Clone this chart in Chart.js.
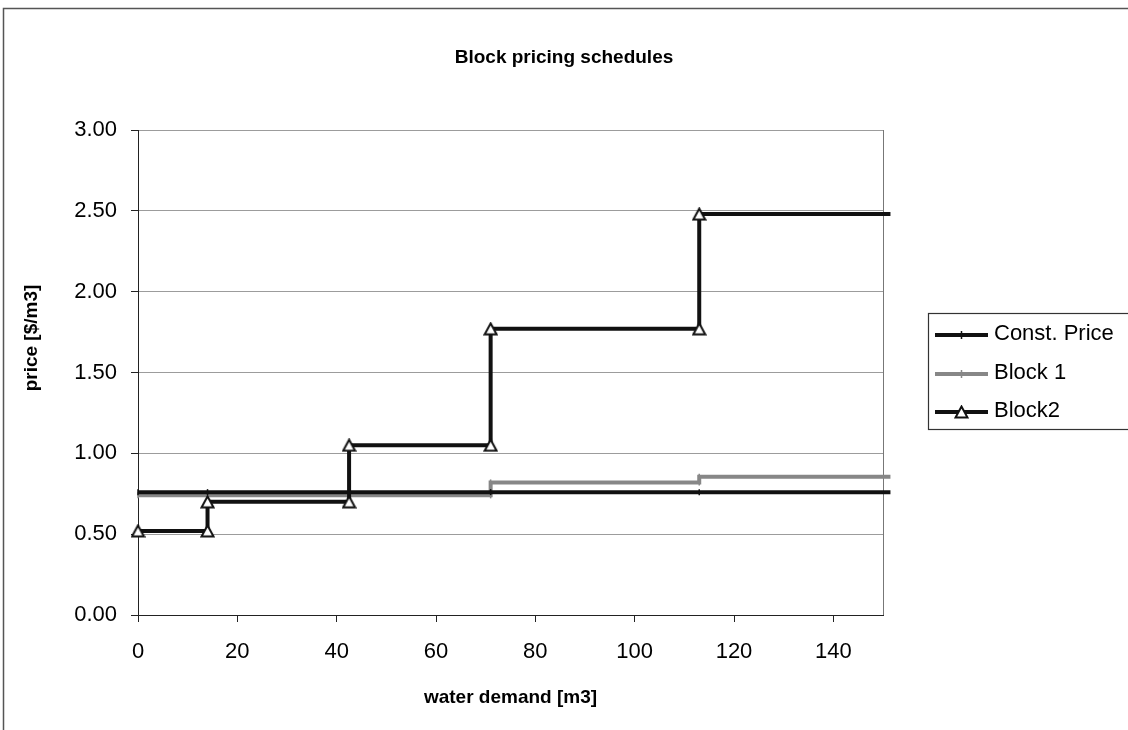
<!DOCTYPE html>
<html>
<head>
<meta charset="utf-8">
<title>Block pricing schedules</title>
<script src="https://cdn.jsdelivr.net/npm/chart.js@4.4.1/dist/chart.umd.min.js"></script>
<style>
  html, body { margin: 0; padding: 0; background: #fff; }
  #wrap { position: relative; width: 1128px; height: 730px; }
  canvas { display: block; }
</style>
</head>
<body>
<div id="wrap"><canvas id="c" width="1128" height="730"></canvas></div>
<script>
// Series data: water demand [m3] vs. price [$/m3]
const seriesNames = ['Const. Price', 'Block 1', 'Block2'];
const constX  = [0, 14, 42.5, 71, 113, 151.5];
const constY  = [0.76, 0.76, 0.76, 0.76, 0.76, 0.76];
const block1X = [0, 14, 42.5, 71, 71, 113, 113, 151.5];
const block1Y = [0.74, 0.74, 0.74, 0.74, 0.82, 0.82, 0.855, 0.855];
const block2X = [0, 14, 14, 42.5, 42.5, 71, 71, 113, 113, 151.5];
const block2Y = [0.52, 0.52, 0.70, 0.70, 1.05, 1.05, 1.77, 1.77, 2.48, 2.48];
const xTicks  = [0, 20, 40, 60, 80, 100, 120, 140];
const yTicks  = [0, 0.5, 1, 1.5, 2, 2.5, 3];

const FONT = "'Liberation Sans', Arial, Helvetica, sans-serif";
Chart.defaults.font.family = FONT;
Chart.defaults.color = '#000';

const toPoints = (xs, ys) => xs.map((x, i) => ({ x: x, y: ys[i] }));

// Open triangle marker, centred on its bounding box
function makeTriangle() {
  const c = document.createElement('canvas');
  c.width = 15; c.height = 14;
  const g = c.getContext('2d');
  g.beginPath();
  g.moveTo(7.5, 1.5);
  g.lineTo(13.5, 12.5);
  g.lineTo(1.5, 12.5);
  g.closePath();
  g.fillStyle = '#fff';
  g.fill();
  g.lineWidth = 2;
  g.lineJoin = 'miter';
  g.strokeStyle = '#111';
  g.stroke();
  return c;
}
const triangleMarker = makeTriangle();

// Outer chart frame
const framePlugin = {
  id: 'frame',
  beforeDraw(chart) {
    const ctx = chart.ctx;
    ctx.save();
    ctx.fillStyle = '#fff';
    ctx.fillRect(0, 0, chart.width, chart.height);
    ctx.strokeStyle = '#555';
    ctx.lineWidth = 1.5;
    ctx.strokeRect(3.5, 8.5, chart.width + 20, chart.height + 20);
    ctx.restore();
  }
};

// Right edge of the plot area
const plotBorderPlugin = {
  id: 'plotBorder',
  beforeDatasetsDraw(chart) {
    const { ctx, chartArea: a } = chart;
    ctx.save();
    ctx.strokeStyle = '#777';
    ctx.lineWidth = 1;
    ctx.beginPath();
    ctx.moveTo(Math.round(a.right) + 0.5, a.top);
    ctx.lineTo(Math.round(a.right) + 0.5, a.bottom);
    ctx.stroke();
    ctx.restore();
  }
};

// Value-axis title, placed a little above the middle of the plot
const yTitlePlugin = {
  id: 'yTitle',
  afterDraw(chart) {
    const ctx = chart.ctx;
    ctx.save();
    ctx.translate(32, 338);
    ctx.rotate(-Math.PI / 2);
    ctx.font = 'bold 19px ' + FONT;
    ctx.fillStyle = '#000';
    ctx.textAlign = 'center';
    ctx.textBaseline = 'middle';
    ctx.fillText('price [$/m3]', 0, 0);
    ctx.restore();
  }
};

// Boxed legend on the right, built from the dataset styles
const boxLegendPlugin = {
  id: 'boxLegend',
  afterDraw(chart) {
    const ctx = chart.ctx;
    const box = { x: 928.5, y: 313.5, w: 300, h: 116 };
    const rowsY = [335, 374, 412];
    ctx.save();
    ctx.strokeStyle = '#333';
    ctx.lineWidth = 1.2;
    ctx.strokeRect(box.x, box.y, box.w, box.h);
    chart.data.datasets.forEach((ds, i) => {
      const y = rowsY[i];
      ctx.strokeStyle = ds.borderColor;
      ctx.lineWidth = ds.borderWidth;
      ctx.beginPath();
      ctx.moveTo(935, y);
      ctx.lineTo(988, y);
      ctx.stroke();
      ctx.fillStyle = ds.pointBackgroundColor;
      ctx.strokeStyle = ds.pointBorderColor;
      ctx.lineWidth = ds.pointBorderWidth;
      Chart.helpers.drawPoint(ctx, {
        pointStyle: ds.pointStyle,
        rotation: ds.pointRotation || 0,
        radius: 4,
        borderWidth: ds.pointBorderWidth
      }, 961.5, y);
      ctx.fillStyle = '#000';
      ctx.font = '22px ' + FONT;
      ctx.textBaseline = 'middle';
      ctx.textAlign = 'left';
      ctx.fillText(ds.label, 994, y - 1);
    });
    ctx.restore();
  }
};

const block2Radius = block2X.map((_, i) => (i === block2X.length - 1 ? 0 : 6));

const chart = new Chart(document.getElementById('c'), {
  type: 'scatter',
  data: {
    datasets: [
      {
        label: seriesNames[0],
        data: toPoints(constX, constY),
        showLine: true,
        borderColor: '#111',
        borderWidth: 4,
        pointStyle: 'line',
        pointRotation: 90,
        pointRadius: 3,
        pointBorderWidth: 1.5,
        pointBorderColor: '#111',
        pointBackgroundColor: '#111',
        order: 1,
        clip: false
      },
      {
        label: seriesNames[1],
        data: toPoints(block1X, block1Y),
        showLine: true,
        borderColor: '#878787',
        borderWidth: 4,
        pointStyle: 'line',
        pointRotation: 90,
        pointRadius: 3,
        pointBorderWidth: 1.5,
        pointBorderColor: '#878787',
        pointBackgroundColor: '#878787',
        order: 2,
        clip: false
      },
      {
        label: seriesNames[2],
        data: toPoints(block2X, block2Y),
        showLine: true,
        borderColor: '#111',
        borderWidth: 4,
        pointStyle: triangleMarker,
        pointRadius: block2Radius,
        pointBorderWidth: 2,
        pointBorderColor: '#111',
        pointBackgroundColor: '#fff',
        order: 0,
        clip: false
      }
    ]
  },
  options: {
    responsive: false,
    animation: false,
    devicePixelRatio: 1,
    events: [],
    layout: { padding: { top: 10, left: 0, right: 0, bottom: 0 } },
    plugins: {
      legend: { display: false },
      tooltip: { enabled: false },
      title: {
        display: true,
        text: 'Block pricing schedules',
        color: '#000',
        font: { family: FONT, size: 19, weight: 'bold' },
        padding: { top: 36.6, bottom: 60.6 }
      }
    },
    scales: {
      x: {
        type: 'linear',
        position: 'bottom',
        min: 0,
        max: 150,
        afterBuildTicks: (s) => { s.ticks = xTicks.map(v => ({ value: v })); },
        afterFit: (s) => { s.height = 115; },
        ticks: { font: { family: FONT, size: 22 }, color: '#000', padding: 17, maxRotation: 0 },
        grid: { drawOnChartArea: false, drawTicks: true, tickLength: 7, tickColor: '#222', tickWidth: 1 },
        border: { display: true, color: '#222', width: 1 },
        title: {
          display: true,
          text: 'water demand [m3]',
          color: '#000',
          font: { family: FONT, size: 19, weight: 'bold' },
          padding: { top: 0, bottom: 21 }
        }
      },
      y: {
        type: 'linear',
        position: 'left',
        min: 0,
        max: 3,
        afterBuildTicks: (s) => { s.ticks = yTicks.map(v => ({ value: v })); },
        afterFit: (s) => { s.width = 138; },
        ticks: {
          font: { family: FONT, size: 22 },
          color: '#000',
          padding: 14,
          callback: (v) => Number(v).toFixed(2)
        },
        grid: { color: '#9c9c9c', lineWidth: 1, drawTicks: true, tickLength: 7, tickColor: '#222' },
        border: { display: true, color: '#222', width: 1 },
        title: { display: false }
      },
      side: {
        type: 'linear',
        position: 'right',
        display: true,
        min: 0,
        max: 1,
        afterFit: (s) => { s.width = 245; },
        ticks: { display: false },
        grid: { display: false, drawTicks: false },
        border: { display: false }
      }
    }
  },
  plugins: [framePlugin, plotBorderPlugin, yTitlePlugin, boxLegendPlugin]
});
</script>
</body>
</html>
